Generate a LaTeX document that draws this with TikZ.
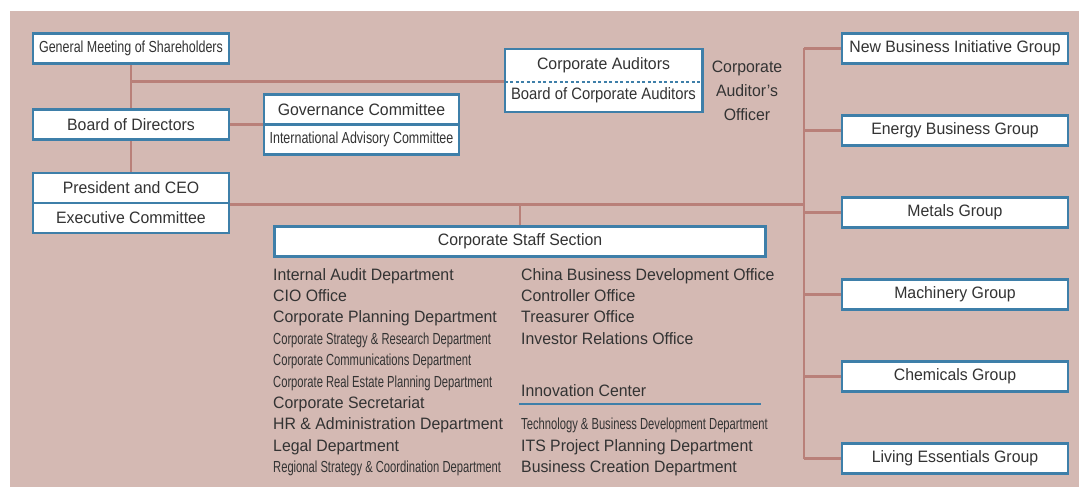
\documentclass[tikz,border=0pt]{standalone}
\usepackage{fontspec}
\setmainfont{Liberation Sans}[FakeStretch=0.96]
\newfontfamily\narrowfont[FakeStretch=0.7]{Liberation Sans}
\newfontfamily\boxnarrowfont[FakeStretch=0.78]{Liberation Sans}
\usetikzlibrary{backgrounds}

\definecolor{chartbg}{RGB}{212,185,179}
\definecolor{linkline}{RGB}{185,128,121}
\definecolor{boxblue}{RGB}{62,127,169}
\definecolor{chartText}{RGB}{51,51,51}

\tikzset{
	orgbox/.style={draw=boxblue, line width=2.5pt, fill=white, inner sep=0pt,
		minimum height=30pt, text=chartText, font=\fontsize{16.5}{20}\selectfont},
	boxnarrow/.style={font=\fontsize{16}{20}\selectfont\boxnarrowfont},
	narrow/.style={font=\fontsize{16}{20}\selectfont\narrowfont},
	link/.style={draw=linkline, line width=2.5pt},
	item/.style={anchor=west, inner sep=0pt, text=chartText, text height=12pt,
		text depth=3.5pt, font=\fontsize{16.5}{20}\selectfont},
}

\begin{document}
\begin{tikzpicture}[x=1pt, y=-1pt]
			\useasboundingbox (0,0) rectangle (1079,487);
			% 左側の機関
			\node[orgbox, boxnarrow, minimum width=196pt] (general_meeting) at (131,48.5) {General Meeting of Shareholders};
			\node[orgbox, minimum width=196pt] (board) at (131,124.5) {Board of Directors};
			\node[orgbox, minimum width=196pt] (president) at (131,188) {President and CEO};
			\node[orgbox, minimum width=196pt] (executive_committee) at (131,218) {Executive Committee};
			% 委員会
			\node[orgbox, minimum width=195pt] (governance) at (361.5,109.5) {Governance Committee};
			\node[orgbox, boxnarrow, minimum width=195pt] (advisory) at (361.5,139.5) {International Advisory Committee};
			% 監査役
			\node[orgbox, draw=none, minimum width=195pt] (corporate_auditors) at (603.5,65.5) {Corporate Auditors};
			\node[orgbox, draw=none, minimum width=195pt, font=\fontsize{16.5}{20}\selectfont\addfontfeature{FakeStretch=0.9}] (board_of_auditors) at (603.5,95.5) {Board of Corporate Auditors};
			\draw[boxblue, line width=2.5pt] (corporate_auditors.north west) rectangle (board_of_auditors.south east);
			\draw[boxblue, line width=2pt, dash pattern=on 3pt off 2.5pt] (corporate_auditors.south west) -- (corporate_auditors.south east);
			\node[text=chartText, align=center, font=\fontsize{16.5}{24}\selectfont] (auditors_officer) at (747,91) {Corporate\\Auditor's\\Officer};
			% 営業グループ
			\node[orgbox, minimum width=226pt] (new_business) at (955,48.5) {New Business Initiative Group};
			\node[orgbox, minimum width=226pt] (energy) at (955,130.5) {Energy Business Group};
			\node[orgbox, minimum width=226pt] (metals) at (955,212.5) {Metals Group};
			\node[orgbox, minimum width=226pt] (machinery) at (955,294.5) {Machinery Group};
			\node[orgbox, minimum width=226pt] (chemicals) at (955,376.5) {Chemicals Group};
			\node[orgbox, minimum width=226pt] (living) at (955,458.5) {Living Essentials Group};
			% コーポレートスタッフ部門
			\node[orgbox, minimum width=491pt] (staff) at (520,241.5) {Corporate Staff Section};
			\node[item] (audit_dept) at (273,276.5) {Internal Audit Department};
			\node[item] (cio_office) at (273,297.5) {CIO Office};
			\node[item] (planning_dept) at (273,318.5) {Corporate Planning Department};
			\node[item, narrow] (strategy_dept) at (273,340.5) {Corporate Strategy \& Research Department};
			\node[item, narrow] (communications_dept) at (273,361.5) {Corporate Communications Department};
			\node[item, narrow] (real_estate_dept) at (273,383.5) {Corporate Real Estate Planning Department};
			\node[item] (secretariat) at (273,404.5) {Corporate Secretariat};
			\node[item] (hr_dept) at (273,425.5) {HR \& Administration Department};
			\node[item] (legal_dept) at (273,447.5) {Legal Department};
			\node[item, narrow] (regional_dept) at (273,468.5) {Regional Strategy \& Coordination Department};
			\node[item] (china_office) at (521,276.5) {China Business Development Office};
			\node[item] (controller_office) at (521,297.5) {Controller Office};
			\node[item] (treasurer_office) at (521,318.5) {Treasurer Office};
			\node[item] (ir_office) at (521,340.5) {Investor Relations Office};
			\node[item] (innovation_center) at (521,392.5) {Innovation Center};
			\node[item, narrow] (technology_dept) at (521,425.5) {Technology \& Business Development Department};
			\node[item] (its_dept) at (521,447.5) {ITS Project Planning Department};
			\node[item] (creation_dept) at (521,468.5) {Business Creation Department};
			% 下線
			\coordinate (rule_start) at (519,403.5);
			\coordinate (rule_end) at (761,403.5);
			\draw[boxblue, line width=2pt] (rule_start)--(rule_end);
			% 線の描画
			\coordinate (spine_top) at (804,48.5);
			\coordinate (spine_bottom) at (804,458.5);
			\begin{pgfonlayer}{background}
				\fill[chartbg] (10,11) rectangle (1079,487);
				\draw[link] (general_meeting.south)--(board.north);
				\draw[link] (board.south)--(president.north);
				\draw[link] (general_meeting.south |- corporate_auditors.south)--(corporate_auditors.south west);
				\draw[link] (board.east)--(board.east -| governance.west);
				\draw[link] (president.south east)--(president.south east -| spine_top);
				\draw[link] (staff.north)--(staff.north |- president.south);
				\draw[link] (spine_top)--(spine_bottom);
				\draw[link] (new_business.west)--(new_business.west -| spine_top);
				\draw[link] (energy.west)--(energy.west -| spine_top);
				\draw[link] (metals.west)--(metals.west -| spine_top);
				\draw[link] (machinery.west)--(machinery.west -| spine_top);
				\draw[link] (chemicals.west)--(chemicals.west -| spine_top);
				\draw[link] (living.west)--(living.west -| spine_top);
			\end{pgfonlayer}
		\end{tikzpicture}
\end{document}
